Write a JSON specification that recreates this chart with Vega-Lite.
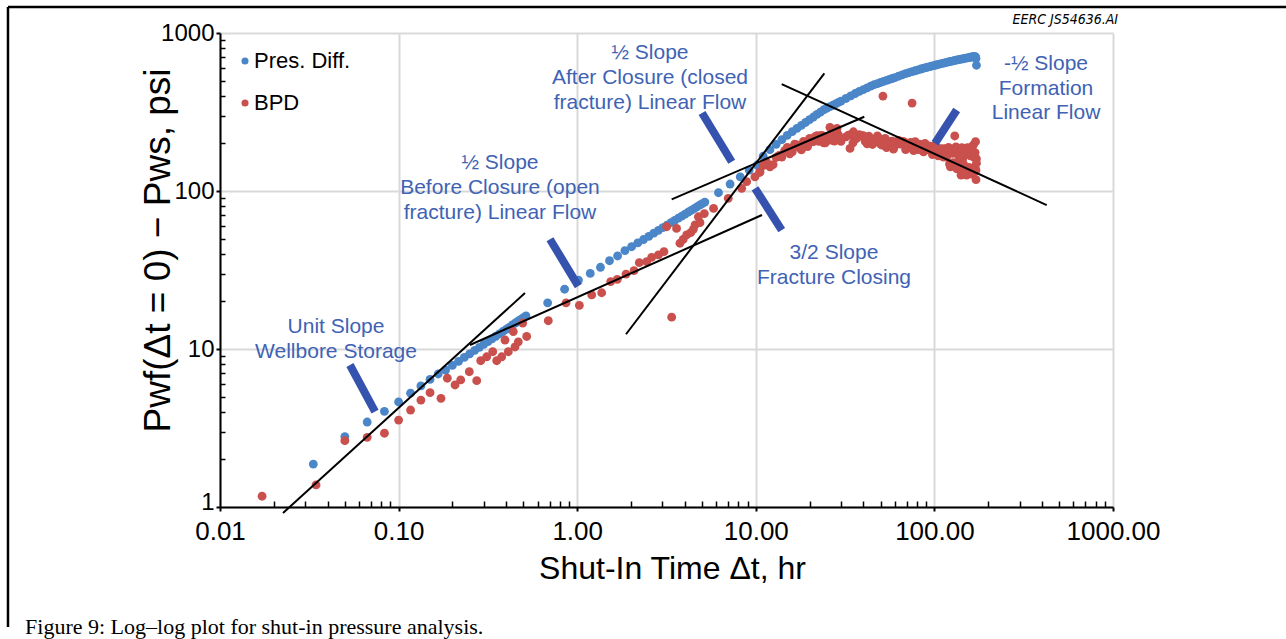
{
  "$schema": "https://vega.github.io/schema/vega-lite/v6.json",
  "width": 893,
  "height": 474,
  "autosize": {"type": "none"},
  "padding": {"left": 220, "top": 33, "right": 173, "bottom": 132},
  "background": "white",
  "config": {
    "view": {"stroke": null},
    "font": "Liberation Sans",
    "axis": {"labelFont": "Liberation Sans", "titleFont": "Liberation Sans"},
    "legend": {"labelFont": "Liberation Sans"}
  },
  "datasets": {
    "pts": [
      {"t":0.0333,"v":1.87,"s":"Pres. Diff."},{"t":0.05,"v":2.79,"s":"Pres. Diff."},{"t":0.0667,"v":3.45,"s":"Pres. Diff."},{"t":0.0833,"v":4.03,"s":"Pres. Diff."},{"t":0.1,"v":4.62,"s":"Pres. Diff."},{"t":0.1167,"v":5.25,"s":"Pres. Diff."},{"t":0.1333,"v":5.84,"s":"Pres. Diff."},{"t":0.15,"v":6.43,"s":"Pres. Diff."},{"t":0.1667,"v":6.95,"s":"Pres. Diff."},{"t":0.1833,"v":7.36,"s":"Pres. Diff."},{"t":0.2,"v":7.87,"s":"Pres. Diff."},{"t":0.2167,"v":8.36,"s":"Pres. Diff."},{"t":0.2333,"v":8.85,"s":"Pres. Diff."},{"t":0.25,"v":9.32,"s":"Pres. Diff."},{"t":0.2667,"v":9.79,"s":"Pres. Diff."},{"t":0.2833,"v":10.25,"s":"Pres. Diff."},{"t":0.3,"v":10.71,"s":"Pres. Diff."},{"t":0.3167,"v":11.15,"s":"Pres. Diff."},{"t":0.3333,"v":11.6,"s":"Pres. Diff."},{"t":0.35,"v":12.04,"s":"Pres. Diff."},{"t":0.3667,"v":12.47,"s":"Pres. Diff."},{"t":0.3833,"v":12.9,"s":"Pres. Diff."},{"t":0.4,"v":13.3,"s":"Pres. Diff."},{"t":0.4167,"v":13.7,"s":"Pres. Diff."},{"t":0.4333,"v":14.2,"s":"Pres. Diff."},{"t":0.45,"v":14.6,"s":"Pres. Diff."},{"t":0.4667,"v":15.0,"s":"Pres. Diff."},{"t":0.4833,"v":15.4,"s":"Pres. Diff."},{"t":0.5,"v":15.8,"s":"Pres. Diff."},{"t":0.5167,"v":16.2,"s":"Pres. Diff."},
      {"t":0.6833,"v":19.6,"s":"Pres. Diff."},{"t":0.85,"v":23.9,"s":"Pres. Diff."},{"t":1.0167,"v":27.3,"s":"Pres. Diff."},{"t":1.1833,"v":30.1,"s":"Pres. Diff."},{"t":1.35,"v":32.9,"s":"Pres. Diff."},{"t":1.5167,"v":36.2,"s":"Pres. Diff."},{"t":1.6833,"v":38.8,"s":"Pres. Diff."},{"t":1.85,"v":41.9,"s":"Pres. Diff."},
      {"t":2.0167,"v":44.4,"s":"Pres. Diff."},{"t":2.1833,"v":46.9,"s":"Pres. Diff."},{"t":2.35,"v":49.3,"s":"Pres. Diff."},{"t":2.5167,"v":51.6,"s":"Pres. Diff."},{"t":2.6833,"v":54.1,"s":"Pres. Diff."},{"t":2.85,"v":56.4,"s":"Pres. Diff."},{"t":3.0167,"v":58.6,"s":"Pres. Diff."},{"t":3.1833,"v":60.8,"s":"Pres. Diff."},{"t":3.35,"v":63.0,"s":"Pres. Diff."},{"t":3.5167,"v":65.2,"s":"Pres. Diff."},{"t":3.6833,"v":67.3,"s":"Pres. Diff."},{"t":3.85,"v":69.3,"s":"Pres. Diff."},{"t":4.0167,"v":71.4,"s":"Pres. Diff."},{"t":4.1833,"v":73.5,"s":"Pres. Diff."},{"t":4.35,"v":75.3,"s":"Pres. Diff."},{"t":4.5167,"v":77.4,"s":"Pres. Diff."},{"t":4.6833,"v":79.4,"s":"Pres. Diff."},{"t":4.85,"v":81.3,"s":"Pres. Diff."},{"t":5.0167,"v":83.2,"s":"Pres. Diff."},{"t":5.1833,"v":85.1,"s":"Pres. Diff."},
      {"t":6.18,"v":97.5,"s":"Pres. Diff."},{"t":7.18,"v":110.7,"s":"Pres. Diff."},{"t":8.18,"v":123,"s":"Pres. Diff."},{"t":9.18,"v":135.7,"s":"Pres. Diff."},{"t":10.18,"v":146,"s":"Pres. Diff."},
      {"t":11,"v":166,"s":"Pres. Diff."},{"t":12,"v":182.6,"s":"Pres. Diff."},{"t":13,"v":197.5,"s":"Pres. Diff."},{"t":14,"v":211.3,"s":"Pres. Diff."},{"t":15,"v":225,"s":"Pres. Diff."},{"t":16,"v":237.5,"s":"Pres. Diff."},{"t":17,"v":249,"s":"Pres. Diff."},{"t":18,"v":260.3,"s":"Pres. Diff."},{"t":19,"v":271.5,"s":"Pres. Diff."},{"t":20,"v":282.7,"s":"Pres. Diff."},{"t":21,"v":293.9,"s":"Pres. Diff."},{"t":22,"v":305.1,"s":"Pres. Diff."},{"t":23,"v":316,"s":"Pres. Diff."},{"t":24,"v":326.6,"s":"Pres. Diff."},{"t":25,"v":334.1,"s":"Pres. Diff."},{"t":26,"v":341.6,"s":"Pres. Diff."},{"t":27,"v":348.9,"s":"Pres. Diff."},{"t":28,"v":356,"s":"Pres. Diff."},{"t":29,"v":363.2,"s":"Pres. Diff."},{"t":30,"v":370.3,"s":"Pres. Diff."},
      {"t":32,"v":385,"s":"Pres. Diff."},{"t":34,"v":399.6,"s":"Pres. Diff."},{"t":36,"v":413.9,"s":"Pres. Diff."},{"t":38,"v":426.6,"s":"Pres. Diff."},{"t":40,"v":438.1,"s":"Pres. Diff."},{"t":42,"v":449.5,"s":"Pres. Diff."},{"t":44,"v":460.7,"s":"Pres. Diff."},{"t":46,"v":470.8,"s":"Pres. Diff."},{"t":48,"v":478.6,"s":"Pres. Diff."},{"t":50,"v":486.3,"s":"Pres. Diff."},{"t":52,"v":493.7,"s":"Pres. Diff."},{"t":54,"v":500.9,"s":"Pres. Diff."},{"t":56,"v":508,"s":"Pres. Diff."},{"t":58,"v":515.2,"s":"Pres. Diff."},{"t":60,"v":522.3,"s":"Pres. Diff."},
      {"t":63,"v":532.6,"s":"Pres. Diff."},{"t":66,"v":542.8,"s":"Pres. Diff."},{"t":69,"v":553.7,"s":"Pres. Diff."},{"t":72,"v":561.4,"s":"Pres. Diff."},{"t":75,"v":569.3,"s":"Pres. Diff."},{"t":78,"v":576.8,"s":"Pres. Diff."},{"t":81,"v":584.1,"s":"Pres. Diff."},{"t":84,"v":591.5,"s":"Pres. Diff."},{"t":87,"v":598.4,"s":"Pres. Diff."},{"t":90,"v":604.5,"s":"Pres. Diff."},{"t":93,"v":610.4,"s":"Pres. Diff."},{"t":96,"v":616.1,"s":"Pres. Diff."},{"t":99,"v":621.6,"s":"Pres. Diff."},{"t":102,"v":627.1,"s":"Pres. Diff."},{"t":105,"v":632.8,"s":"Pres. Diff."},{"t":108,"v":637.6,"s":"Pres. Diff."},{"t":111,"v":642.3,"s":"Pres. Diff."},{"t":114,"v":646.9,"s":"Pres. Diff."},{"t":117,"v":651.5,"s":"Pres. Diff."},{"t":120,"v":655.9,"s":"Pres. Diff."},{"t":123,"v":660.3,"s":"Pres. Diff."},{"t":126,"v":664.5,"s":"Pres. Diff."},{"t":129,"v":668.7,"s":"Pres. Diff."},{"t":132,"v":672.9,"s":"Pres. Diff."},{"t":135,"v":676.5,"s":"Pres. Diff."},{"t":138,"v":679.9,"s":"Pres. Diff."},{"t":141,"v":683.2,"s":"Pres. Diff."},{"t":144,"v":686.5,"s":"Pres. Diff."},{"t":147,"v":689.7,"s":"Pres. Diff."},{"t":150,"v":692.9,"s":"Pres. Diff."},{"t":153,"v":696.1,"s":"Pres. Diff."},{"t":156,"v":699.1,"s":"Pres. Diff."},{"t":159,"v":702,"s":"Pres. Diff."},{"t":162,"v":705.1,"s":"Pres. Diff."},{"t":165,"v":707.9,"s":"Pres. Diff."},{"t":168,"v":711,"s":"Pres. Diff."},{"t":170,"v":705,"s":"Pres. Diff."},{"t":171,"v":690,"s":"Pres. Diff."},{"t":172,"v":625,"s":"Pres. Diff."},
      {"t":0.0172,"v":1.17,"s":"BPD"},{"t":0.0345,"v":1.38,"s":"BPD"},{"t":0.05,"v":2.63,"s":"BPD"},{"t":0.0667,"v":2.76,"s":"BPD"},{"t":0.0833,"v":2.93,"s":"BPD"},{"t":0.1,"v":3.55,"s":"BPD"},{"t":0.1167,"v":4.11,"s":"BPD"},{"t":0.1333,"v":4.75,"s":"BPD"},{"t":0.15,"v":5.29,"s":"BPD"},{"t":0.1727,"v":4.87,"s":"BPD"},{"t":0.1874,"v":6.53,"s":"BPD"},{"t":0.207,"v":5.92,"s":"BPD"},{"t":0.2227,"v":6.37,"s":"BPD"},{"t":0.2488,"v":7.18,"s":"BPD"},{"t":0.2737,"v":6.3,"s":"BPD"},{"t":0.2883,"v":8.43,"s":"BPD"},{"t":0.3114,"v":8.93,"s":"BPD"},{"t":0.3365,"v":9.61,"s":"BPD"},{"t":0.3543,"v":8.43,"s":"BPD"},{"t":0.3778,"v":8.93,"s":"BPD"},{"t":0.3942,"v":11.4,"s":"BPD"},{"t":0.4114,"v":9.61,"s":"BPD"},{"t":0.4387,"v":12.9,"s":"BPD"},{"t":0.4484,"v":10.3,"s":"BPD"},{"t":0.468,"v":11.1,"s":"BPD"},{"t":0.4952,"v":14.6,"s":"BPD"},{"t":0.5214,"v":12.0,"s":"BPD"},
      {"t":0.689,"v":15.1,"s":"BPD"},{"t":0.866,"v":19.6,"s":"BPD"},{"t":1.028,"v":18.9,"s":"BPD"},{"t":1.206,"v":22.0,"s":"BPD"},{"t":1.371,"v":22.7,"s":"BPD"},{"t":1.54,"v":26.7,"s":"BPD"},{"t":1.677,"v":27.6,"s":"BPD"},{"t":1.876,"v":29.8,"s":"BPD"},{"t":2.08,"v":31.3,"s":"BPD"},{"t":2.227,"v":35.2,"s":"BPD"},{"t":2.45,"v":35.7,"s":"BPD"},{"t":2.61,"v":38.0,"s":"BPD"},{"t":2.85,"v":39.4,"s":"BPD"},{"t":3.06,"v":41.3,"s":"BPD"},{"t":3.17,"v":59.4,"s":"BPD"},{"t":3.38,"v":15.9,"s":"BPD"},{"t":3.6,"v":58.0,"s":"BPD"},{"t":3.76,"v":46.7,"s":"BPD"},{"t":3.92,"v":49.4,"s":"BPD"},{"t":4.1,"v":52.7,"s":"BPD"},{"t":4.32,"v":54.5,"s":"BPD"},{"t":4.47,"v":57.2,"s":"BPD"},{"t":4.57,"v":61.0,"s":"BPD"},{"t":4.77,"v":68.7,"s":"BPD"},{"t":4.87,"v":63.0,"s":"BPD"},{"t":5.15,"v":72,"s":"BPD"},{"t":5.8,"v":77.6,"s":"BPD"},{"t":7.01,"v":89.9,"s":"BPD"},{"t":8.34,"v":104,"s":"BPD"},{"t":8.89,"v":114.5,"s":"BPD"},{"t":9.89,"v":123,"s":"BPD"},{"t":10.56,"v":132,"s":"BPD"},
      {"t":11,"v":145,"s":"BPD"},{"t":12,"v":142,"s":"BPD"},{"t":13,"v":163,"s":"BPD"},{"t":14,"v":164,"s":"BPD"},{"t":15,"v":189,"s":"BPD"},{"t":16,"v":177,"s":"BPD"},{"t":17,"v":196,"s":"BPD"},{"t":18,"v":182,"s":"BPD"},{"t":19,"v":203,"s":"BPD"},{"t":20,"v":215,"s":"BPD"},{"t":21,"v":205,"s":"BPD"},{"t":22,"v":224,"s":"BPD"},{"t":23,"v":224,"s":"BPD"},{"t":24,"v":202,"s":"BPD"},{"t":25,"v":220,"s":"BPD"},{"t":26,"v":210,"s":"BPD"},{"t":27,"v":233,"s":"BPD"},{"t":28,"v":210,"s":"BPD"},{"t":29,"v":227,"s":"BPD"},{"t":30,"v":206,"s":"BPD"},
      {"t":32,"v":220,"s":"BPD"},{"t":34,"v":227,"s":"BPD"},{"t":36,"v":212,"s":"BPD"},{"t":38,"v":227,"s":"BPD"},{"t":40,"v":224,"s":"BPD"},{"t":42,"v":199,"s":"BPD"},{"t":44,"v":215,"s":"BPD"},{"t":46,"v":204,"s":"BPD"},{"t":48,"v":223,"s":"BPD"},{"t":50,"v":198,"s":"BPD"},{"t":52,"v":210,"s":"BPD"},{"t":54,"v":188,"s":"BPD"},{"t":56,"v":200,"s":"BPD"},{"t":58,"v":207,"s":"BPD"},{"t":60,"v":194,"s":"BPD"},
      {"t":63,"v":209,"s":"BPD"},{"t":66,"v":206,"s":"BPD"},{"t":69,"v":183,"s":"BPD"},{"t":72,"v":198,"s":"BPD"},{"t":75,"v":187,"s":"BPD"},{"t":78,"v":205,"s":"BPD"},{"t":81,"v":183,"s":"BPD"},{"t":84,"v":196,"s":"BPD"},{"t":87,"v":177,"s":"BPD"},{"t":90,"v":188,"s":"BPD"},{"t":93,"v":193,"s":"BPD"},{"t":96,"v":180,"s":"BPD"},{"t":99,"v":193,"s":"BPD"},{"t":102,"v":189,"s":"BPD"},{"t":105,"v":167,"s":"BPD"},{"t":108,"v":181,"s":"BPD"},{"t":111,"v":170,"s":"BPD"},{"t":114,"v":185,"s":"BPD"},{"t":117,"v":164,"s":"BPD"},{"t":120,"v":189,"s":"BPD"},{"t":123,"v":142,"s":"BPD"},{"t":126,"v":173,"s":"BPD"},{"t":129,"v":147,"s":"BPD"},{"t":132,"v":190,"s":"BPD"},{"t":135,"v":150,"s":"BPD"},{"t":138,"v":172,"s":"BPD"},{"t":141,"v":126,"s":"BPD"},{"t":144,"v":160,"s":"BPD"},{"t":147,"v":178,"s":"BPD"},{"t":150,"v":136,"s":"BPD"},{"t":153,"v":188,"s":"BPD"},{"t":156,"v":141,"s":"BPD"},{"t":159,"v":167,"s":"BPD"},{"t":162,"v":128,"s":"BPD"},{"t":165,"v":195,"s":"BPD"},{"t":168,"v":142,"s":"BPD"},{"t":171,"v":118,"s":"BPD"},
      {"t":10.5,"v":131,"s":"BPD"},{"t":11.5,"v":152,"s":"BPD"},{"t":12.5,"v":147,"s":"BPD"},{"t":13.5,"v":168,"s":"BPD"},{"t":14.5,"v":180,"s":"BPD"},{"t":15.5,"v":172,"s":"BPD"},{"t":16.5,"v":198,"s":"BPD"},{"t":17.5,"v":189,"s":"BPD"},{"t":18.5,"v":206,"s":"BPD"},{"t":19.5,"v":191,"s":"BPD"},{"t":20.5,"v":210,"s":"BPD"},{"t":21.5,"v":221,"s":"BPD"},{"t":22.5,"v":206,"s":"BPD"},{"t":23.5,"v":225,"s":"BPD"},{"t":24.5,"v":202,"s":"BPD"},{"t":25.5,"v":220,"s":"BPD"},{"t":26.5,"v":226,"s":"BPD"},{"t":27.5,"v":207,"s":"BPD"},{"t":28.5,"v":232,"s":"BPD"},{"t":29.5,"v":216,"s":"BPD"},
      {"t":33,"v":226,"s":"BPD"},{"t":35,"v":202,"s":"BPD"},{"t":37,"v":217,"s":"BPD"},{"t":39,"v":224,"s":"BPD"},{"t":41,"v":206,"s":"BPD"},{"t":43,"v":222,"s":"BPD"},{"t":45,"v":197,"s":"BPD"},{"t":47,"v":213,"s":"BPD"},{"t":49,"v":215,"s":"BPD"},{"t":51,"v":195,"s":"BPD"},{"t":53,"v":215,"s":"BPD"},{"t":55,"v":197,"s":"BPD"},{"t":57,"v":206,"s":"BPD"},{"t":59,"v":184,"s":"BPD"},
      {"t":64.5,"v":198,"s":"BPD"},{"t":67.5,"v":205,"s":"BPD"},{"t":70.5,"v":188,"s":"BPD"},{"t":73.5,"v":203,"s":"BPD"},{"t":76.5,"v":180,"s":"BPD"},{"t":79.5,"v":195,"s":"BPD"},{"t":82.5,"v":198,"s":"BPD"},{"t":85.5,"v":180,"s":"BPD"},{"t":88.5,"v":200,"s":"BPD"},{"t":91.5,"v":183,"s":"BPD"},{"t":94.5,"v":191,"s":"BPD"},{"t":97.5,"v":170,"s":"BPD"},{"t":100.5,"v":183,"s":"BPD"},{"t":103.5,"v":188,"s":"BPD"},{"t":106.5,"v":172,"s":"BPD"},{"t":109.5,"v":185,"s":"BPD"},{"t":112.5,"v":164,"s":"BPD"},{"t":115.5,"v":175,"s":"BPD"},{"t":118.5,"v":184,"s":"BPD"},{"t":121.5,"v":148,"s":"BPD"},{"t":124.5,"v":183,"s":"BPD"},{"t":127.5,"v":151,"s":"BPD"},{"t":130.5,"v":186,"s":"BPD"},{"t":133.5,"v":138,"s":"BPD"},{"t":136.5,"v":167,"s":"BPD"},{"t":139.5,"v":142,"s":"BPD"},{"t":142.5,"v":188,"s":"BPD"},{"t":145.5,"v":148,"s":"BPD"},{"t":148.5,"v":171,"s":"BPD"},{"t":151.5,"v":126,"s":"BPD"},{"t":154.5,"v":176,"s":"BPD"},{"t":157.5,"v":137,"s":"BPD"},{"t":160.5,"v":189,"s":"BPD"},{"t":163.5,"v":132,"s":"BPD"},{"t":166.5,"v":164,"s":"BPD"},{"t":169.5,"v":138,"s":"BPD"},
      {"t":26,"v":253,"s":"BPD"},{"t":28.5,"v":249,"s":"BPD"},{"t":33.7,"v":186,"s":"BPD"},{"t":35.2,"v":237,"s":"BPD"},{"t":51.5,"v":399,"s":"BPD"},{"t":75,"v":360,"s":"BPD"},{"t":130,"v":223,"s":"BPD"},{"t":170,"v":205,"s":"BPD"},{"t":172,"v":160,"s":"BPD"},{"t":169,"v":175,"s":"BPD"},{"t":171,"v":135,"s":"BPD"},{"t":172,"v":150,"s":"BPD"},{"t":166,"v":130,"s":"BPD"},{"t":160,"v":185,"s":"BPD"}
    ],
    "trend": [
      {"x1":0.02253,"y1":0.916,"x2":0.51,"y2":22.6},
      {"x1":0.251,"y1":10.6,"x2":10.83,"y2":70.5},
      {"x1":1.876,"y1":12.4,"x2":24.2,"y2":556},
      {"x1":3.38,"y1":88.6,"x2":40.5,"y2":295},
      {"x1":13.96,"y1":475,"x2":425.5,"y2":81.5}
    ],
    "arrows": [
      {"x1":0.0534,"y1":7.92,"x2":0.0738,"y2":4.01},
      {"x1":0.704,"y1":49.5,"x2":1.0144,"y2":25.0},
      {"x1":5.0,"y1":311.6,"x2":7.33,"y2":153.2},
      {"x1":9.9,"y1":104,"x2":13.96,"y2":56.6},
      {"x1":133.3,"y1":325.6,"x2":100.8,"y2":200.4}
    ],
    "notes": [
      {"t":0.04462,"v":13.78,"label":"Unit Slope"},
      {"t":0.04462,"v":9.61,"label":"Wellbore Storage"},
      {"t":0.3696,"v":150.4,"label":"½ Slope"},
      {"t":0.3696,"v":104.4,"label":"Before Closure (open"},
      {"t":0.3696,"v":72.6,"label":"fracture) Linear Flow"},
      {"t":2.556,"v":747,"label":"½ Slope"},
      {"t":2.556,"v":519,"label":"After Closure (closed"},
      {"t":2.556,"v":360.5,"label":"fracture) Linear Flow"},
      {"t":27.4,"v":40.5,"label":"3/2 Slope"},
      {"t":27.4,"v":28.1,"label":"Fracture Closing"},
      {"t":421.7,"v":636.6,"label":"-½ Slope"},
      {"t":421.7,"v":442,"label":"Formation"},
      {"t":421.7,"v":309.4,"label":"Linear Flow"}
    ],
    "frame": [
      {"x1":0.00065,"y1":0.174,"x2":0.00065,"y2":1460},
      {"x1":0.00065,"y1":1460,"x2":20000,"y2":1460}
    ],
    "captions": [
      {"t":0.00081,"v":0.157,"label":"Figure 9: Log–log plot for shut-in pressure analysis."}
    ],
    "tag": [
      {"t":1067,"v":1140,"label":"EERC JS54636.AI"}
    ]
  },
  "layer": [
    {
      "data": {"name": "frame"},
      "mark": {"type": "rule", "color": "black", "strokeWidth": 2.5},
      "encoding": {
        "x": {"field": "x1", "type": "quantitative", "scale": {"type": "log", "domain": [0.01, 1000]}, "axis": null},
        "x2": {"field": "x2"},
        "y": {"field": "y1", "type": "quantitative", "scale": {"type": "log", "domain": [1, 1000]}, "axis": null},
        "y2": {"field": "y2"}
      }
    },
    {
      "data": {"name": "pts"},
      "mark": {"type": "circle", "size": 78, "opacity": 1},
      "encoding": {
        "x": {"field": "t", "type": "quantitative", "scale": {"type": "log", "domain": [0.01, 1000]},
          "axis": {"orient": "bottom", "values": [0.01, 0.1, 1, 10, 100, 1000], "format": ".2f", "grid": true, "gridColor": "#d9d9d9", "gridWidth": 2,
            "domainColor": "black", "domainWidth": 2, "tickColor": "black", "tickWidth": 2, "tickSize": 4, "labelFontSize": 26, "labelColor": "black", "labelPadding": 7, "labelFlush": false,
            "title": "Shut-In Time Δt, hr", "titleFontSize": 32, "titleFontWeight": "normal", "titleColor": "black", "titleBaseline": "middle", "titleX": 452, "titleY": 61}},
        "y": {"field": "v", "type": "quantitative", "scale": {"type": "log", "domain": [1, 1000]},
          "axis": {"orient": "left", "values": [1, 10, 100, 1000], "format": "d", "grid": true, "gridColor": "#d9d9d9", "gridWidth": 2,
            "domainColor": "black", "domainWidth": 2, "tickColor": "black", "tickWidth": 2, "tickSize": 4, "labelFontSize": 24, "labelColor": "black", "labelPadding": 2,
            "labelOffset": {"condition": {"test": "datum.value === 1", "value": -5}, "value": 0},
            "title": "Pwf(Δt = 0) − Pws, psi", "titleFontSize": 37, "titleFontWeight": "normal", "titleColor": "black", "titleBaseline": "middle", "titleX": -62, "titleY": 217}},
        "color": {"field": "s", "type": "nominal", "scale": {"domain": ["Pres. Diff.", "BPD"], "range": ["#4a86c8", "#c9504c"]},
          "legend": {"orient": "none", "legendX": 14, "legendY": 17, "title": null, "labelFontSize": 22, "labelColor": "black", "symbolType": "circle", "symbolSize": 50, "rowPadding": 20, "labelOffset": -2, "padding": 0}}
      }
    },
    {
      "data": {"name": "trend"},
      "mark": {"type": "rule", "color": "black", "strokeWidth": 2},
      "encoding": {
        "x": {"field": "x1", "type": "quantitative", "scale": {"type": "log", "domain": [0.01, 1000]},
          "axis": {"orient": "bottom", "values": [0.02,0.03,0.04,0.05,0.06,0.07,0.08,0.09,0.2,0.3,0.4,0.5,0.6,0.7,0.8,0.9,2,3,4,5,6,7,8,9,20,30,40,50,60,70,80,90,200,300,400,500,600,700,800,900],
            "labels": false, "domain": false, "grid": false, "tickSize": -6, "tickColor": "black", "tickWidth": 1.5, "title": null}},
        "x2": {"field": "x2"},
        "y": {"field": "y1", "type": "quantitative", "scale": {"type": "log", "domain": [1, 1000]},
          "axis": {"orient": "left", "values": [2,3,4,5,6,7,8,9,20,30,40,50,60,70,80,90,200,300,400,500,600,700,800,900],
            "labels": false, "domain": false, "grid": false, "tickSize": -5, "tickColor": "black", "tickWidth": 1.5, "title": null}},
        "y2": {"field": "y2"}
      }
    },
    {
      "data": {"name": "arrows"},
      "mark": {"type": "rule", "color": "#3552ae", "strokeWidth": 8, "strokeCap": "butt"},
      "encoding": {
        "x": {"field": "x1", "type": "quantitative", "scale": {"type": "log", "domain": [0.01, 1000]}, "axis": null},
        "x2": {"field": "x2"},
        "y": {"field": "y1", "type": "quantitative", "scale": {"type": "log", "domain": [1, 1000]}, "axis": null},
        "y2": {"field": "y2"}
      }
    },
    {
      "data": {"name": "notes"},
      "mark": {"type": "text", "color": "#4062b4", "fontSize": 21, "font": "Liberation Sans", "align": "center", "baseline": "middle"},
      "encoding": {
        "x": {"field": "t", "type": "quantitative", "scale": {"type": "log", "domain": [0.01, 1000]}, "axis": null},
        "y": {"field": "v", "type": "quantitative", "scale": {"type": "log", "domain": [1, 1000]}, "axis": null},
        "text": {"field": "label"}
      }
    },
    {
      "data": {"name": "captions"},
      "mark": {"type": "text", "color": "black", "fontSize": 22, "font": "Liberation Serif", "align": "left", "baseline": "alphabetic"},
      "encoding": {
        "x": {"field": "t", "type": "quantitative", "scale": {"type": "log", "domain": [0.01, 1000]}, "axis": null},
        "y": {"field": "v", "type": "quantitative", "scale": {"type": "log", "domain": [1, 1000]}, "axis": null},
        "text": {"field": "label"}
      }
    },
    {
      "data": {"name": "tag"},
      "mark": {"type": "text", "color": "black", "fontSize": 14, "font": "'Liberation Sans Narrow', 'DejaVu Sans Condensed', 'Liberation Sans'", "fontStyle": "italic", "align": "right", "baseline": "alphabetic"},
      "encoding": {
        "x": {"field": "t", "type": "quantitative", "scale": {"type": "log", "domain": [0.01, 1000]}, "axis": null},
        "y": {"field": "v", "type": "quantitative", "scale": {"type": "log", "domain": [1, 1000]}, "axis": null},
        "text": {"field": "label"}
      }
    }
  ],
  "resolve": {"axis": {"x": "independent", "y": "independent"}}
}
